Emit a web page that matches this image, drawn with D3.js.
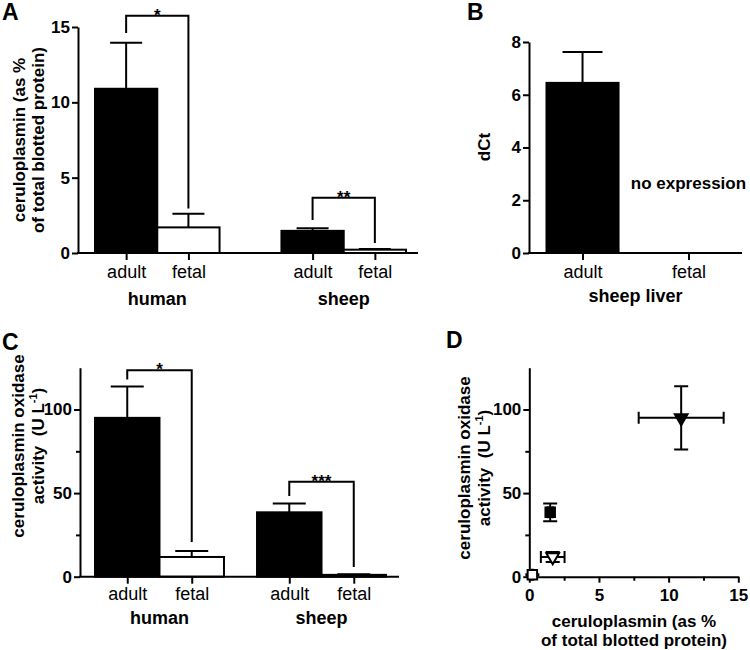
<!DOCTYPE html>
<html><head><meta charset="utf-8">
<script src="https://cdn.jsdelivr.net/npm/d3@7"></script>
<style>body{margin:0;background:#fff} text{font-family:"Liberation Sans",Arial,sans-serif}</style>
</head><body><svg id="c" width="750" height="650" style="background:#fff"></svg>
<script>
// ---------- data ----------
// Panel A: ceruloplasmin (% of total blotted protein)
const groupsA = ["human", "sheep"];
const agesA = ["adult", "fetal"];
const meanA = [10.9, 1.7, 1.47, 0.22];   // human adult, human fetal, sheep adult, sheep fetal
const semA  = [3.05, 0.9, 0.18, 0.05];
const ticksA = [0, 5, 10, 15];
const sigA = [ {group: "human", label: "*",  top: 15.75, left: 14.6, right: 2.95},
               {group: "sheep", label: "**", top: 3.67, left: 2.19, right: 0.66} ];
// Panel B: dCt sheep liver
const groupsB = ["sheep liver"];
const agesB = ["adult", "fetal"];
const meanB = [6.45, null];
const semB  = [1.17, null];
const ticksB = [0, 2, 4, 6, 8];
// Panel C: ceruloplasmin oxidase activity (U L-1)
const meanC = [95, 11.8, 38.5, 1.1];
const semC  = [18.8, 3.5, 5.3, 0.3];
const ticksC = [0, 50, 100];
const minorC = [25, 75];
const sigC = [ {group: "human", label: "*",   top: 123.5, left: 118, right: 20.7},
               {group: "sheep", label: "***", top: 56.8, left: 48.2, right: 5.8} ];
// Panel D: activity vs protein
const pointsD = [
  {name: "human adult", x: 10.9, xe: 3.05, y: 95,   ye: 18.9, symbol: "tri", fill: "#000"},
  {name: "human fetal", x: 1.68, xe: 0.85, y: 11.8, ye: 3.0,  symbol: "tri", fill: "#fff"},
  {name: "sheep adult", x: 1.5,  xe: 0.18, y: 38.5, ye: 5.3,  symbol: "sq",  fill: "#000"},
  {name: "sheep fetal", x: 0.22, xe: 0.05, y: 1.1,  ye: 0.3,  symbol: "sq",  fill: "#fff"}
];
const ticksDx = [0, 5, 10, 15];
const minorDx = [2.5, 7.5, 12.5];
const ticksDy = [0, 50, 100];
const minorDy = [25, 75];

// ---------- drawing ----------
const FONT = "'Liberation Sans', Arial, sans-serif";
const svg = d3.select("#c");

function styleAxis(sel, fs, bold) {
  sel.select(".domain").attr("stroke", "#000").attr("stroke-width", 2);
  sel.selectAll(".tick line").attr("stroke", "#000").attr("stroke-width", 2);
  sel.selectAll(".tick text").attr("fill", "#000")
    .style("font-family", FONT).style("font-size", fs + "px")
    .style("font-weight", bold ? "bold" : "normal");
}

function panelLetter(x, y, s) {
  svg.append("text").attr("x", x).attr("y", y).text(s)
    .style("font-size", "23px").style("font-weight", "bold");
}

function barPanel(o) {
  const g = svg.append("g");
  const y = d3.scaleLinear().domain(o.yDomain).range(o.yRange);
  const xOuter = d3.scaleBand().domain(o.groups).range(o.bandRange).paddingInner(o.padIn);
  const xInner = d3.scaleBand().domain(o.cats).range([0, xOuter.bandwidth()]).paddingInner(o.innerPad || 0);
  const rows = [];
  o.groups.forEach((grp, i) => o.cats.forEach((c, j) => {
    const k = i * o.cats.length + j;
    rows.push({key: grp + "|" + c, grp, cat: c, mean: o.means[k], sem: o.sems[k], fill: j === 0 ? "#000" : "#fff"});
  }));
  const bx = r => xOuter(r.grp) + xInner(r.cat);
  const cx = r => bx(r) + xInner.bandwidth() / 2;
  const centers = d3.scaleOrdinal().domain(rows.map(r => r.key)).range(rows.map(cx));

  const data = rows.filter(r => r.mean != null);
  g.selectAll("rect.bar").data(data).join("rect")
    .attr("x", bx).attr("width", xInner.bandwidth())
    .attr("y", r => y(r.mean)).attr("height", r => y(0) - y(r.mean))
    .attr("fill", r => r.fill).attr("stroke", "#000").attr("stroke-width", 2);
  g.selectAll("line.err").data(data).join("line")
    .attr("x1", cx).attr("x2", cx).attr("y1", r => y(r.mean)).attr("y2", r => y(r.mean + r.sem))
    .attr("stroke", "#000").attr("stroke-width", 2);
  g.selectAll("line.cap").data(data).join("line")
    .attr("x1", r => cx(r) - o.capW / 2).attr("x2", r => cx(r) + o.capW / 2)
    .attr("y1", r => y(r.mean + r.sem)).attr("y2", r => y(r.mean + r.sem))
    .attr("stroke", "#000").attr("stroke-width", 2);

  const ya = g.append("g").attr("transform", `translate(${o.axisX},0)`)
    .call(d3.axisLeft(y).tickValues(o.ticks).tickSize(6).tickSizeOuter(0).tickPadding(2).tickFormat(d3.format("d")));
  styleAxis(ya, 17, true);
  if (o.minor) {
    const ym = g.append("g").attr("transform", `translate(${o.axisX},0)`)
      .call(d3.axisLeft(y).tickValues(o.minor).tickSize(4).tickFormat(""));
    ym.select(".domain").remove();
    styleAxis(ym, 17, true);
  }
  g.append("line").attr("x1", o.axisX - 1).attr("x2", o.axisEnd).attr("y1", y(0)).attr("y2", y(0))
    .attr("stroke", "#000").attr("stroke-width", 2);
  const xa = g.append("g").attr("transform", `translate(0,${y(0)})`)
    .call(d3.axisBottom(centers).tickSize(7).tickPadding(o.catPad).tickFormat(k => k.split("|")[1]));
  xa.select(".domain").remove();
  styleAxis(xa, 18, false);
  g.selectAll("text.grp").data(o.groups).join("text")
    .attr("x", d => xOuter(d) + xOuter.bandwidth() / 2).attr("y", o.groupY)
    .attr("text-anchor", "middle").text(d => d)
    .style("font-size", "18px").style("font-weight", "bold");
  (o.sig || []).forEach(s => {
    const l = centers(s.group + "|" + o.cats[0]), r = centers(s.group + "|" + o.cats[1]);
    g.append("path").attr("d", `M${l},${y(s.left)}V${y(s.top)}H${r}V${y(s.right)}`)
      .attr("fill", "none").attr("stroke", "#000").attr("stroke-width", 2);
    g.append("text").attr("x", (l + r) / 2).attr("y", y(s.top) + 5).attr("text-anchor", "middle")
      .text(s.label).style("font-size", "17px").style("font-weight", "bold");
  });
  return {y, centers};
}

// Panel A
barPanel({groups: groupsA, cats: agesA, means: meanA, sems: semA, ticks: ticksA,
  yDomain: [0, 15], yRange: [253, 27], bandRange: [95, 406], padIn: 0.332,
  axisX: 78, axisEnd: 418, capW: 32, catPad: 5, groupY: 305, sig: sigA});
panelLetter(2, 20, "A");
svg.append("g").attr("transform", "translate(25,140) rotate(-90)").call(gg => {
  gg.append("text").attr("text-anchor", "middle").attr("y", 0).text("ceruloplasmin (as %")
    .style("font-size", "17px").style("font-weight", "bold");
  gg.append("text").attr("text-anchor", "middle").attr("y", 19).text("of total blotted protein)")
    .style("font-size", "17px").style("font-weight", "bold");
});

// Panel B
const pb = barPanel({groups: groupsB, cats: agesB, means: meanB, sems: semB, ticks: ticksB,
  yDomain: [0, 8], yRange: [253, 42], bandRange: [546.5, 724.5], padIn: 0, innerPad: 0.32,
  axisX: 529, axisEnd: 742, capW: 40, catPad: 5, groupY: 302});
panelLetter(467, 20, "B");
svg.append("text").attr("x", pb.centers("sheep liver|fetal")).attr("y", pb.y(2.42))
  .attr("text-anchor", "middle").text("no expression").style("font-size", "17px").style("font-weight", "bold");
svg.append("text").attr("transform", "translate(490,147) rotate(-90)").attr("text-anchor", "middle")
  .text("dCt").style("font-size", "17px").style("font-weight", "bold");

// Panel C
barPanel({groups: groupsA, cats: agesA, means: meanC, sems: semC, ticks: ticksC, minor: minorC,
  yDomain: [0, 125], yRange: [576.7, 367.7], bandRange: [95, 386], padIn: 0.204,
  axisX: 80, axisEnd: 399, capW: 33, catPad: 3.5, groupY: 624, sig: sigC});
panelLetter(2, 350, "C");
function actLabel(x, y, gap) {
  const gg = svg.append("g").attr("transform", `translate(${x},${y}) rotate(-90)`);
  gg.append("text").attr("text-anchor", "middle").attr("y", 0).text("ceruloplasmin oxidase")
    .style("font-size", "17px").style("font-weight", "bold");
  const t2 = gg.append("text").attr("text-anchor", "middle").attr("y", gap)
    .style("font-size", "17px").style("font-weight", "bold").style("white-space", "pre");
  t2.append("tspan").text("activity  (U L");
  t2.append("tspan").text("-1").attr("dy", -7).style("font-size", "11px");
  t2.append("tspan").text(")").attr("dy", 7);
}
actLabel(24, 446, 20);

// Panel D
(function () {
  const g = svg.append("g");
  const x = d3.scaleLinear().domain([0, 15]).range([529.3, 738.3]);
  const y = d3.scaleLinear().domain([0, 125]).range([576.7, 367.7]);
  const xa = g.append("g").attr("transform", `translate(0,${y(0)})`)
    .call(d3.axisBottom(x).tickValues(ticksDx).tickSize(6).tickSizeOuter(0).tickPadding(6).tickFormat(d3.format("d")));
  styleAxis(xa, 17, true);
  const xm = g.append("g").attr("transform", `translate(0,${y(0)})`)
    .call(d3.axisBottom(x).tickValues(minorDx).tickSize(4).tickFormat(""));
  xm.select(".domain").remove(); styleAxis(xm, 17, true);
  const ya = g.append("g").attr("transform", `translate(${x(0)},0)`)
    .call(d3.axisLeft(y).tickValues(ticksDy).tickSize(6).tickSizeOuter(0).tickPadding(2).tickFormat(d3.format("d")));
  styleAxis(ya, 17, true);
  const ym = g.append("g").attr("transform", `translate(${x(0)},0)`)
    .call(d3.axisLeft(y).tickValues(minorDy).tickSize(4).tickFormat(""));
  ym.select(".domain").remove(); styleAxis(ym, 17, true);

  const pts = g.selectAll("g.pt").data(pointsD).join("g");
  pts.append("path").attr("fill", "none").attr("stroke", "#000").attr("stroke-width", 2)
    .attr("d", d => `M${x(d.x - d.xe)},${y(d.y)}H${x(d.x + d.xe)}` +
      `M${x(d.x - d.xe)},${y(d.y) - 6}V${y(d.y) + 6}M${x(d.x + d.xe)},${y(d.y) - 6}V${y(d.y) + 6}`);
  pts.append("path").attr("fill", "none").attr("stroke", "#000").attr("stroke-width", 2)
    .attr("d", d => `M${x(d.x)},${y(d.y - d.ye)}V${y(d.y + d.ye)}` +
      `M${x(d.x) - 7},${y(d.y - d.ye)}H${x(d.x) + 7}M${x(d.x) - 7},${y(d.y + d.ye)}H${x(d.x) + 7}`);
  pts.append("path")
    .attr("d", d => d3.symbol().type(d.symbol === "tri" ? d3.symbolTriangle : d3.symbolSquare)
      .size(d.symbol === "tri" ? 70 : 90)())
    .attr("transform", d => `translate(${x(d.x)},${y(d.y)})` + (d.symbol === "tri" ? " rotate(180)" : ""))
    .attr("fill", d => d.fill).attr("stroke", "#000").attr("stroke-width", 2);

  const t = g.append("g");
  t.append("text").attr("x", 634).attr("y", 627).attr("text-anchor", "middle").text("ceruloplasmin (as %")
    .style("font-size", "17px").style("font-weight", "bold");
  t.append("text").attr("x", 634).attr("y", 646).attr("text-anchor", "middle").text("of total blotted protein)")
    .style("font-size", "17px").style("font-weight", "bold");
})();
panelLetter(446, 348, "D");
actLabel(470, 468, 20);
</script></body></html>
